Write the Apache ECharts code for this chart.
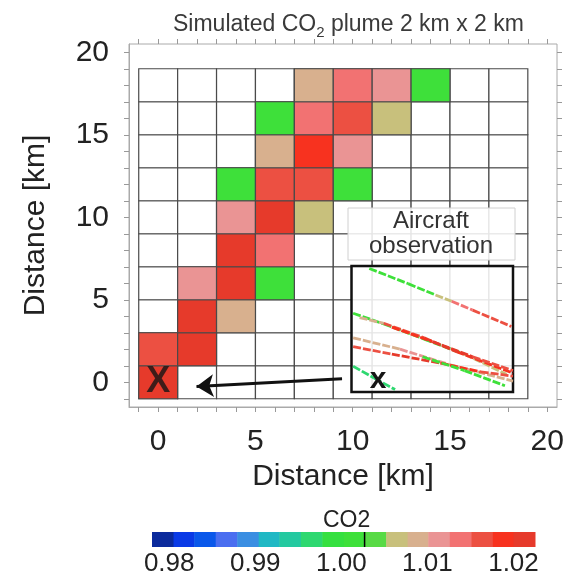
<!DOCTYPE html>
<html>
<head>
<meta charset="utf-8">
<script src="https://cdn.jsdelivr.net/npm/echarts@6/dist/echarts.min.js"></script>
<style>html,body{margin:0;padding:0;background:#fff;}#c{width:570px;height:577px;}</style>
</head>
<body>
<div id="c"></div>
<script>
// ---- data ----
const cellX = [0, 2, 4, 6, 8, 10, 12, 14, 16, 18];
const cellY = [0, 2, 4, 6, 8, 10, 12, 14, 16, 18];
const axisLabelsKm = [0, 5, 10, 15, 20];
const tickRangeKm = [-1, 20];   // minor ticks every 1 km over this range
const tickStepKm = 1;
// simulated plume cells: [x km, y km, CO2]
const plume = [
  [0, 0, 1.021],
  [0, 2, 1.0165], [2, 2, 1.021],
  [2, 4, 1.021], [4, 4, 1.009],
  [2, 6, 1.0115], [4, 6, 1.021], [6, 6, 1.0015],
  [4, 8, 1.021], [6, 8, 1.014],
  [4, 10, 1.0115], [6, 10, 1.021], [8, 10, 1.0065],
  [4, 12, 1.0015], [6, 12, 1.0165], [8, 12, 1.0165], [10, 12, 1.0015],
  [6, 14, 1.009], [8, 14, 1.019], [10, 14, 1.0115],
  [6, 16, 1.0015], [8, 16, 1.014], [10, 16, 1.0165], [12, 16, 1.0065],
  [8, 18, 1.009], [10, 18, 1.014], [12, 18, 1.0115], [14, 18, 1.0015]
];
const sourceXY = [0, 0];
const arrowFrom = [9.45, 0.21];
const arrowTo = [1.97, -0.26];
// colour scale
const cbEdges = [0.9780, 0.9805, 0.9829, 0.9854, 0.9879, 0.9904, 0.9928, 0.9953, 0.9978,
                 1.0003, 1.0027, 1.0052, 1.0077, 1.0101, 1.0126, 1.0151, 1.0176, 1.0200, 1.0225];
const cbColors = ['#0b2a9c', '#0a3ae6', '#0a58ea', '#4a6ef0', '#3a8ee2', '#20b8c4', '#24c9a0',
                  '#2ed870', '#35e040', '#3ee03a', '#58da45', '#c8c07c', '#d8b08e', '#ea9494',
                  '#f27272', '#ec5042', '#f7321f', '#e63a2b'];
const cbTicks = [0.98, 0.99, 1.00, 1.01, 1.02];
const cbBackground = 1.0027;
// aircraft tracks in the inset (relative units): [x, y, CO2]
const track1 = [[0.11,0.98,1.0015],[0.35,0.86,1.0015],[0.52,0.77,1.0065],[0.62,0.72,1.014],[0.75,0.65,1.0165],[0.99,0.52,1.021]];
const track2 = [[0.01,0.625,1.0015],[0.2,0.54,1.0015],[0.45,0.42,1.0015],[0.7,0.30,1.0065],[0.96,0.14,1.009]];
const track3 = [[0.05,0.59,1.009],[0.2,0.545,1.0165],[0.45,0.43,1.021],[0.65,0.32,1.019],[1.0,0.15,1.014]];
const track3b = [[0.25,0.515,1.019],[0.5,0.40,1.021],[0.75,0.28,1.0165],[1.0,0.17,1.021]];
const track4 = [[0.01,0.43,1.009],[0.3,0.34,1.0115],[0.6,0.22,1.009],[1.0,0.087,1.0115]];
const track5 = [[0.01,0.36,1.0165],[0.25,0.30,1.021],[0.55,0.23,1.019],[0.8,0.16,1.0165],[1.0,0.126,1.014]];
const track6 = [[0.44,0.28,1.0015],[0.7,0.17,1.0015],[0.95,0.05,1.0015]];
const track7 = [[0.01,0.205,0.9965],[0.14,0.11,0.9965],[0.27,0.02,1.0015]];
const insetX = [0.164, 0.095];

// ---- derived structures ----
const bgCells = [];
cellX.forEach(x => cellY.forEach(y => bgCells.push([x, y])));
const pieces = cbColors.map((c, i) => ({ gte: cbEdges[i], lt: cbEdges[i + 1], color: c }));
const cbData = cbColors.map((c, i) => [cbEdges[i], cbEdges[i + 1], (cbEdges[i] + cbEdges[i + 1]) / 2]);
const segs = [];
[track1, track2, track3, track3b, track4, track5, track6, track7].forEach(t => {
  for (let i = 0; i < t.length - 1; i++) segs.push([t[i][0], t[i][1], t[i][2], t[i + 1][0], t[i + 1][1]]);
});

// layout (px)
const frame = { left: 129, top: 44, width: 428, height: 363 };
const kmMin = -1.5, kmMax = 20.5;
const pxX = frame.width / (kmMax - kmMin), pxY = frame.height / (kmMax - kmMin);

const FONT = 'Liberation Sans, Arial, Helvetica, sans-serif';
const chart = echarts.init(document.getElementById('c'));

function cellRender(fillFn) {
  return function (params, api) {
    const x = api.value(0), y = api.value(1);
    const p0 = api.coord([x - 1, y + 1]);
    const p1 = api.coord([x + 1, y - 1]);
    return {
      type: 'rect',
      shape: { x: p0[0], y: p0[1], width: p1[0] - p0[0], height: p1[1] - p0[1] },
      style: { fill: fillFn(api), stroke: '#4a4a4a', lineWidth: 1.2 }
    };
  };
}

const hidden = (gridIndex, min, max) => ({ type: 'value', gridIndex, min, max, show: false, axisLine: { onZero: false } });
const tickAxis = (gridIndex, position) => ({
  type: 'value', gridIndex, position, min: tickRangeKm[0], max: tickRangeKm[1], interval: tickStepKm,
  axisLine: { show: false, onZero: false }, axisLabel: { show: false }, splitLine: { show: false },
  axisTick: { show: true, length: 5, lineStyle: { color: '#999' } }
});

const option = {
  animation: false,
  backgroundColor: '#fff',
  title: [
    {
      text: '{a|Simulated CO}{s|2}{a| plume 2 km x 2 km}',
      left: 168, top: 5,
      textStyle: {
        fontWeight: 'normal',
        rich: {
          a: { fontFamily: FONT, fontSize: 23, fontWeight: 'normal', color: '#3a3a3a', verticalAlign: 'bottom', lineHeight: 26 },
          s: { fontFamily: FONT, fontSize: 15, fontWeight: 'normal', color: '#3a3a3a', verticalAlign: 'bottom', lineHeight: 20, padding: [0, 0, -4, 0] }
        }
      }
    },
    {
      text: 'CO2', left: 318, top: 504,
      textStyle: { fontFamily: FONT, fontSize: 23, fontWeight: 'normal', color: '#222' }
    }
  ],
  visualMap: {
    type: 'piecewise', show: false, dimension: 2,
    seriesIndex: [1, 4, 6], pieces: pieces
  },
  grid: [
    { left: frame.left, top: frame.top, width: frame.width, height: frame.height, show: true, borderColor: '#aaa', borderWidth: 1 },
    { left: 152, top: 532, width: 383, height: 18 },
    { left: 351.5, top: 266, width: 161.5, height: 126, show: true,
      backgroundColor: 'rgba(255,255,255,0.86)', borderColor: '#111', borderWidth: 2.5, z: 10 },
    // tick-only grids: x ticks over -1..20 km, y ticks over -1..20 km
    { left: frame.left + (tickRangeKm[0] - kmMin) * pxX, width: (tickRangeKm[1] - tickRangeKm[0]) * pxX,
      top: frame.top, height: frame.height },
    { left: frame.left, width: frame.width,
      top: frame.top + (kmMax - tickRangeKm[1]) * pxY, height: (tickRangeKm[1] - tickRangeKm[0]) * pxY }
  ],
  xAxis: [
    {
      type: 'value', gridIndex: 0, position: 'bottom', min: kmMin, max: kmMax,
      axisLine: { show: true, onZero: false, lineStyle: { color: '#aaa', width: 1 } },
      axisTick: { show: false }, splitLine: { show: false },
      axisLabel: { customValues: axisLabelsKm, fontFamily: FONT, fontSize: 30, color: '#222', margin: 20 },
      name: 'Distance [km]', nameLocation: 'middle', nameGap: 52,
      nameTextStyle: { fontFamily: FONT, fontSize: 30, color: '#222' }
    },
    {
      type: 'value', gridIndex: 1, min: 0.978, max: 1.0225,
      axisLine: { show: false, onZero: false }, axisTick: { show: false }, splitLine: { show: false },
      axisLabel: { customValues: cbTicks, formatter: v => v.toFixed(2), fontFamily: FONT, fontSize: 26, color: '#222', margin: 4 }
    },
    hidden(2, 0, 1),
    tickAxis(3, 'bottom'),
    tickAxis(3, 'top'),
    hidden(4, kmMin, kmMax)
  ],
  yAxis: [
    {
      type: 'value', gridIndex: 0, position: 'left', min: kmMin, max: kmMax,
      axisLine: { show: true, onZero: false, lineStyle: { color: '#aaa', width: 1 } },
      axisTick: { show: false }, splitLine: { show: false },
      axisLabel: { customValues: axisLabelsKm, fontFamily: FONT, fontSize: 30, color: '#222', margin: 20 },
      name: 'Distance [km]', nameLocation: 'middle', nameGap: 78, nameRotate: 90,
      nameTextStyle: { fontFamily: FONT, fontSize: 30, color: '#222' }
    },
    hidden(1, 0, 1),
    hidden(2, 0, 1),
    hidden(3, kmMin, kmMax),
    tickAxis(4, 'left'),
    tickAxis(4, 'right')
  ],
  series: [
    { // 0: empty model grid
      type: 'custom', xAxisIndex: 0, yAxisIndex: 0, data: bgCells, silent: true,
      renderItem: cellRender(() => '#fff')
    },
    { // 1: plume cells
      type: 'custom', xAxisIndex: 0, yAxisIndex: 0, data: plume, silent: true,
      renderItem: cellRender(api => api.visual('color'))
    },
    { // 2: arrow
      type: 'lines', coordinateSystem: 'cartesian2d', xAxisIndex: 0, yAxisIndex: 0, z: 4,
      symbol: ['none', 'arrow'], symbolSize: 17,
      lineStyle: { color: '#111', width: 3, opacity: 1 },
      data: [{ coords: [arrowFrom, arrowTo] }], silent: true
    },
    { // 3: source marker
      type: 'scatter', xAxisIndex: 0, yAxisIndex: 0, symbolSize: 0, z: 5, silent: true,
      data: [sourceXY],
      label: { show: true, position: 'inside', formatter: 'X', fontFamily: FONT, fontSize: 36, fontWeight: 'bold',
               color: '#151515', textBorderWidth: 0 }
    },
    { // 4: colour bar
      type: 'custom', xAxisIndex: 1, yAxisIndex: 1, data: cbData, silent: true,
      renderItem: function (params, api) {
        const p0 = api.coord([api.value(0), 1]);
        const p1 = api.coord([api.value(1), 0]);
        return { type: 'rect', shape: { x: p0[0], y: p0[1], width: p1[0] - p0[0] + 0.5, height: p1[1] - p0[1] },
                 style: { fill: api.visual('color') } };
      }
    },
    { // 5: background level mark on colour bar
      type: 'line', xAxisIndex: 1, yAxisIndex: 1, showSymbol: false, silent: true, z: 5,
      lineStyle: { color: '#000', width: 1.5 },
      data: [[cbBackground, 0], [cbBackground, 1]]
    },
    { // 6: aircraft tracks
      type: 'custom', xAxisIndex: 2, yAxisIndex: 2, data: segs, z: 12, silent: true,
      renderItem: function (params, api) {
        const a = api.coord([api.value(0), api.value(1)]);
        const b = api.coord([api.value(3), api.value(4)]);
        return { type: 'line', shape: { x1: a[0], y1: a[1], x2: b[0], y2: b[1] },
                 style: { stroke: api.visual('color'), lineWidth: 2.8, lineDash: [8, 2] } };
      }
    },
    { // 7: inset source marker
      type: 'scatter', xAxisIndex: 2, yAxisIndex: 2, symbolSize: 0, z: 13, zlevel: 0, silent: true,
      data: [insetX],
      label: { show: true, position: 'inside', formatter: 'x', fontFamily: FONT, fontSize: 30, fontWeight: 'bold',
               color: '#151515', textBorderWidth: 0, opacity: 1 }
    }
  ],
  graphic: [
    { type: 'rect', z: 100, shape: { x: 348, y: 208, width: 167, height: 52 },
      style: { fill: 'rgba(255,255,255,0.86)', stroke: '#d0d0d0', lineWidth: 1 } },
    { type: 'text', z: 101, x: 431, y: 234,
      style: { text: 'Aircraft\nobservation', fontFamily: FONT, fontSize: 24, lineHeight: 25,
               fill: '#333', align: 'center', verticalAlign: 'middle' } }
  ]
};
chart.setOption(option);
</script>
</body>
</html>
